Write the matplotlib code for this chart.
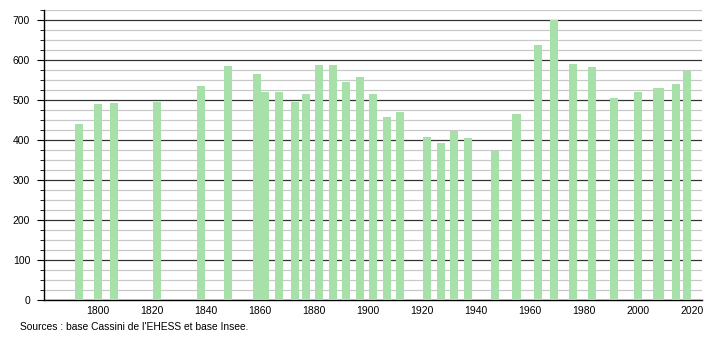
import matplotlib
matplotlib.use("Agg")
import matplotlib.pyplot as plt
from matplotlib.ticker import MultipleLocator

# population data (positions)
years = [1793, 1800, 1806, 1822, 1838, 1848, 1859, 1862, 1867, 1873, 1877,
         1882, 1887, 1892, 1897, 1902, 1907, 1912, 1922, 1927, 1932, 1937,
         1947, 1955, 1963, 1969, 1976, 1983, 1991, 2000, 2007, 2008, 2014, 2018]
population = [440, 490, 492, 495, 535, 585, 565, 520, 520, 495, 515,
              587, 587, 545, 558, 515, 457, 470, 408, 392, 423, 405,
              373, 465, 637, 700, 590, 582, 505, 520, 530, 530, 540, 573]
xticks = [1800, 1820, 1840, 1860, 1880, 1900, 1920, 1940, 1960, 1980, 2000, 2020]
source = "Sources : base Cassini de l'EHESS et base Insee."

plt.rcParams["font.family"] = ["Liberation Sans", "DejaVu Sans"]

fig = plt.figure(figsize=(7.1, 3.4), dpi=100)
ax = fig.add_axes([44 / 710, 1 - 300 / 340, 658 / 710, 290 / 340])

ax.bar(years, population, width=3, color="#a8e0aa", zorder=3)

ax.set_xlim(1780, 2023.7)
ax.set_ylim(0, 725)
ax.set_xticks(xticks)
ax.yaxis.set_major_locator(MultipleLocator(100))
ax.yaxis.set_minor_locator(MultipleLocator(25))

ax.grid(axis="y", which="major", color="#333333", linewidth=0.9, zorder=1)
ax.grid(axis="y", which="minor", color="#c8c8c8", linewidth=0.9, zorder=1)

for side in ["top", "right"]:
    ax.spines[side].set_visible(False)
ax.spines["left"].set_linewidth(1)
ax.spines["bottom"].set_linewidth(1)

ax.tick_params(axis="x", length=0, labelsize=7.5, pad=4)
ax.tick_params(axis="y", which="major", length=5, labelsize=7.5, pad=5)
ax.tick_params(axis="y", which="minor", length=3)

fig.text(20 / 710, 1 - 327 / 340, source, fontsize=7.4, va="center", ha="left")

fig.savefig("out.png", dpi=100)
